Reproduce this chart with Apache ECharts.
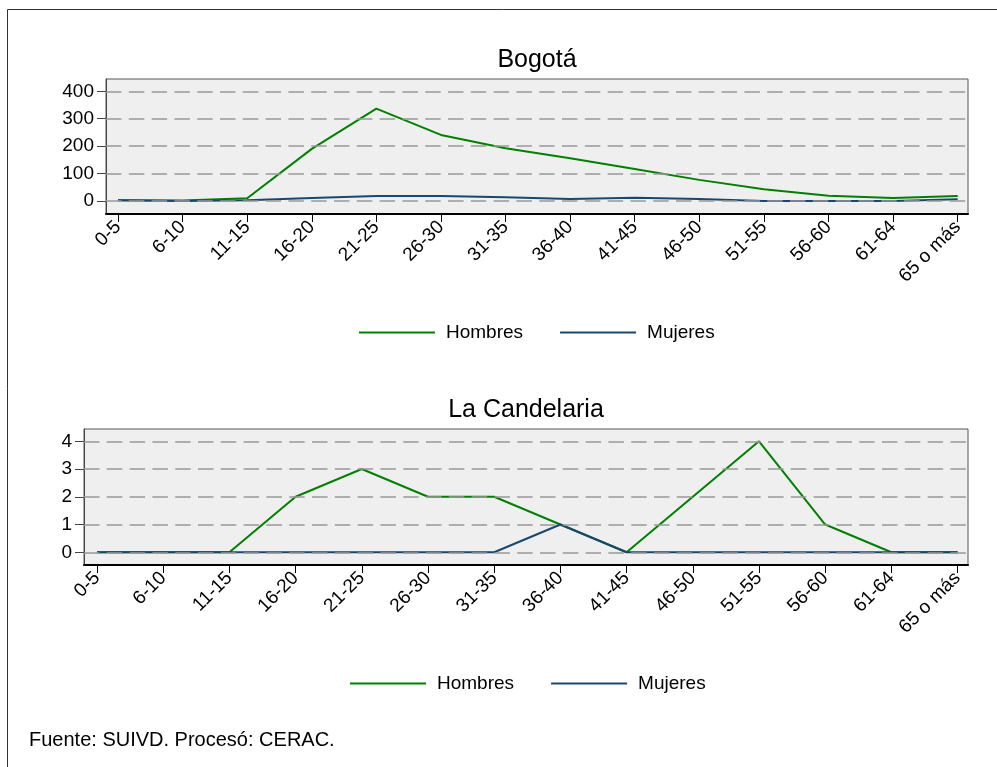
<!DOCTYPE html>
<html>
<head>
<meta charset="utf-8">
<script src="https://cdn.jsdelivr.net/npm/echarts@6/dist/echarts.min.js"></script>
<style>
  html, body { margin: 0; padding: 0; background: #fff; }
  #chart { width: 997px; height: 767px; }
</style>
</head>
<body>
<div id="chart"></div>
<script>
// grupos de edad
var categories = ['0-5', '6-10', '11-15', '16-20', '21-25', '26-30', '31-35', '36-40', '41-45', '46-50', '51-55', '56-60', '61-64', '65 o más']
var bogotaHombres = [3, 2, 10, 190, 337, 241, 192, 156, 117, 77, 43, 19, 11, 18]
var bogotaMujeres = [3, 0, 3, 11, 18, 18, 14, 7, 12, 7, 0, 0, 0, 6]
var candelariaHombres = [0, 0, 0, 2, 3, 2, 2, 1, 0, 2, 4, 1, 0, 0]
var candelariaMujeres = [0, 0, 0, 0, 0, 0, 0, 1, 0, 0, 0, 0, 0, 0]
var bogotaTicks = [0, 100, 200, 300, 400]
var candelariaTicks = [0, 1, 2, 3, 4]

var FONT = '"Liberation Sans", Arial, sans-serif'
var GREEN = '#008000'
var NAVY = '#1a476f'
var catIndex = categories.map(function (c, i) { return i })

function pairs (values) {
  return values.map(function (v, i) { return [i, v] })
}

// eje x (valor, para dejar margen a los lados como en Stata)
function xAxisFor (gridIndex, min, max) {
  return {
    type: 'value',
    gridIndex: gridIndex,
    min: min,
    max: max,
    axisLine: { show: true, onZero: false, lineStyle: { color: '#000', width: 2 } },
    axisTick: { show: true, length: 8, customValues: catIndex, lineStyle: { color: '#000', width: 1 } },
    axisLabel: {
      customValues: catIndex,
      rotate: 45,
      margin: 10,
      fontFamily: FONT,
      fontSize: 19,
      color: '#000',
      formatter: function (v) { return categories[Math.round(v)] }
    },
    splitLine: { show: false }
  }
}

// eje y
function yAxisFor (gridIndex, min, max, ticks) {
  return {
    type: 'value',
    gridIndex: gridIndex,
    min: min,
    max: max,
    axisLine: { show: true, onZero: false, lineStyle: { color: '#444', width: 1 } },
    axisTick: { show: true, length: 9, customValues: ticks, lineStyle: { color: '#444', width: 1 } },
    axisLabel: {
      customValues: ticks,
      margin: 12,
      fontFamily: FONT,
      fontSize: 19,
      color: '#000'
    },
    splitLine: { show: false }
  }
}

// líneas de referencia punteadas
function gridLines (idx, ticks) {
  return {
    type: 'line',
    xAxisIndex: idx,
    yAxisIndex: idx,
    data: [],
    z: 1,
    silent: true,
    markLine: {
      silent: true,
      symbol: 'none',
      label: { show: false },
      lineStyle: { color: '#999', width: 1.5, type: [15.5, 7.3] },
      data: ticks.map(function (t) { return { yAxis: t } })
    }
  }
}

function lineSeries (name, idx, values, color) {
  return {
    name: name,
    type: 'line',
    xAxisIndex: idx,
    yAxisIndex: idx,
    z: 3,
    symbol: 'none',
    silent: true,
    lineStyle: { color: color, width: 2 },
    itemStyle: { color: color },
    data: pairs(values)
  }
}

function legendAt (left, top) {
  return {
    left: left,
    top: top,
    data: ['Hombres', 'Mujeres'],
    icon: 'rect',
    itemWidth: 76,
    itemHeight: 2,
    itemGap: 37,
    selectedMode: false,
    textStyle: { fontFamily: FONT, fontSize: 19, color: '#000', padding: [0, 0, 0, 6] }
  }
}

var myChart = echarts.init(document.getElementById('chart'), null, { renderer: 'canvas' })
var myOption = {
  animation: false,
  backgroundColor: '#fff',
  grid: [
    { left: 106, right: 29, top: 79, height: 135, show: true, backgroundColor: '#efefef', borderColor: '#555', borderWidth: 1 },
    { left: 84, right: 29, top: 429, height: 136, show: true, backgroundColor: '#efefef', borderColor: '#555', borderWidth: 1 }
  ],
  xAxis: [
    xAxisFor(0, -0.186, 13.16),
    xAxisFor(1, -0.196, 13.157)
  ],
  yAxis: [
    yAxisFor(0, -47.4, 444.8, bogotaTicks),
    yAxisFor(1, -0.458, 4.443, candelariaTicks)
  ],
  legend: [
    legendAt(354, 318),
    legendAt(345, 669)
  ],
  graphic: [
    // marco exterior
    { type: 'rect', shape: { x: 7.5, y: 9.5, width: 1100, height: 900 }, style: { fill: 'none', stroke: '#333', lineWidth: 1 }, silent: true },
    { type: 'text', x: 537, y: 60, style: { text: 'Bogotá', font: '25px ' + FONT, fill: '#000', align: 'center', verticalAlign: 'middle', textAlign: 'center', textVerticalAlign: 'middle' } },
    { type: 'text', x: 526, y: 410, style: { text: 'La Candelaria', font: '25px ' + FONT, fill: '#000', align: 'center', verticalAlign: 'middle', textAlign: 'center', textVerticalAlign: 'middle' } },
    { type: 'text', x: 29, y: 740, style: { text: 'Fuente: SUIVD. Procesó: CERAC.', font: '20px ' + FONT, fill: '#000', align: 'left', verticalAlign: 'middle', textAlign: 'left', textVerticalAlign: 'middle' } }
  ],
  series: [
    gridLines(0, bogotaTicks),
    gridLines(1, candelariaTicks),
    lineSeries('Hombres', 0, bogotaHombres, GREEN),
    lineSeries('Mujeres', 0, bogotaMujeres, NAVY),
    lineSeries('Hombres', 1, candelariaHombres, GREEN),
    lineSeries('Mujeres', 1, candelariaMujeres, NAVY)
  ]
}
myChart.setOption(myOption)
</script>
</body>
</html>
